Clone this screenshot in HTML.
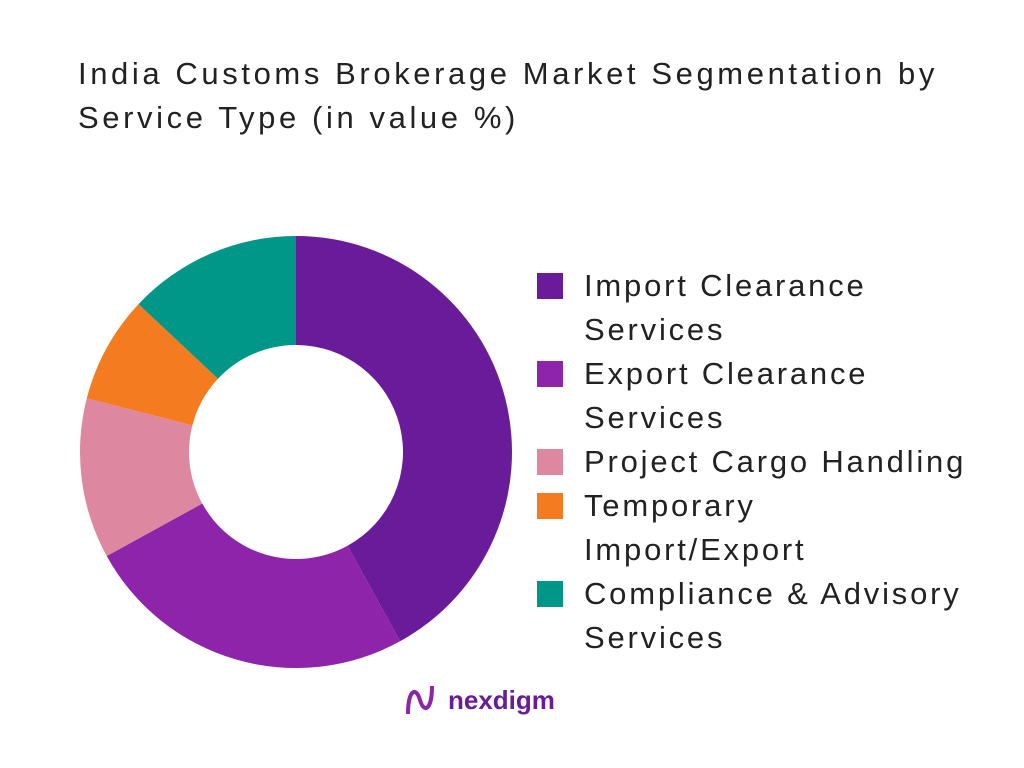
<!DOCTYPE html>
<html><head><meta charset="utf-8"><style>
body{margin:0;width:1024px;height:768px;background:#fff;font-family:"Liberation Sans",sans-serif;overflow:hidden;position:relative}
#title{position:absolute;left:78px;top:52px;font-size:31px;line-height:44px;color:#222;letter-spacing:3.6px;white-space:nowrap}
.leg{position:absolute;left:537px;font-size:31px;line-height:44px;color:#222;letter-spacing:2.8px;white-space:nowrap}
.sw{position:absolute;left:537px;width:26px;height:26px}
</style></head><body>
<div id="title">India Customs Brokerage Market Segmentation by<br>Service Type (in value %)</div>
<svg id="chart" width="1024" height="768" style="position:absolute;left:0;top:0"></svg>
<div id="legend"></div>
<div style="position:absolute;left:402px;top:680px;display:flex;align-items:center">
<svg width="40" height="40" viewBox="0 0 40 40"><path d="M6 34 C6 10,14 6,18 20 C22 34,30 30,30 6" stroke="#8e24aa" stroke-width="4" fill="none"/></svg>
<span style="font-size:26px;font-weight:bold;color:#6a1b9a;margin-left:6px">nexdigm</span></div>
<script>
const categories=["Import Clearance Services","Export Clearance Services","Project Cargo Handling","Temporary Import/Export","Compliance & Advisory Services"];
const values=[42,25,12,8,13];
const colors=["#6a1b9a","#8e24aa","#de87a0","#f47b20","#009688"];
const legendLines=[["Import Clearance","Services"],["Export Clearance","Services"],["Project Cargo Handling"],["Temporary","Import/Export"],["Compliance & Advisory","Services"]];
const svg=document.getElementById('chart');
const cx=296,cy=452,R=216,r=107;
const total=values.reduce((a,b)=>a+b,0);
let a0=0;
function pt(a,rad){return [cx+rad*Math.sin(a),cy-rad*Math.cos(a)];}
values.forEach((v,i)=>{
 const a1=a0+v/total*2*Math.PI;
 const large=(a1-a0)>Math.PI?1:0;
 const p1=pt(a0,R),p2=pt(a1,R),p3=pt(a1,r),p4=pt(a0,r);
 const p=document.createElementNS("http://www.w3.org/2000/svg","path");
 p.setAttribute('d',`M${p1} A${R},${R} 0 ${large} 1 ${p2} L${p3} A${r},${r} 0 ${large} 0 ${p4} Z`);
 p.setAttribute('fill',colors[i]);
 
 
 svg.appendChild(p);
 a0=a1;
});
const leg=document.getElementById('legend');
let y=264;
legendLines.forEach((lines,i)=>{
 const sw=document.createElement('div');
 sw.className='sw';sw.style.top=(y+9)+'px';sw.style.background=colors[i];
 
 
 leg.appendChild(sw);
 const t=document.createElement('div');
 t.className='leg';t.style.left='584px';t.style.top=y+'px';
 t.innerHTML=lines.join('<br>');
 
 
 leg.appendChild(t);
 y+=44*lines.length;
});
</script>
</body></html>
